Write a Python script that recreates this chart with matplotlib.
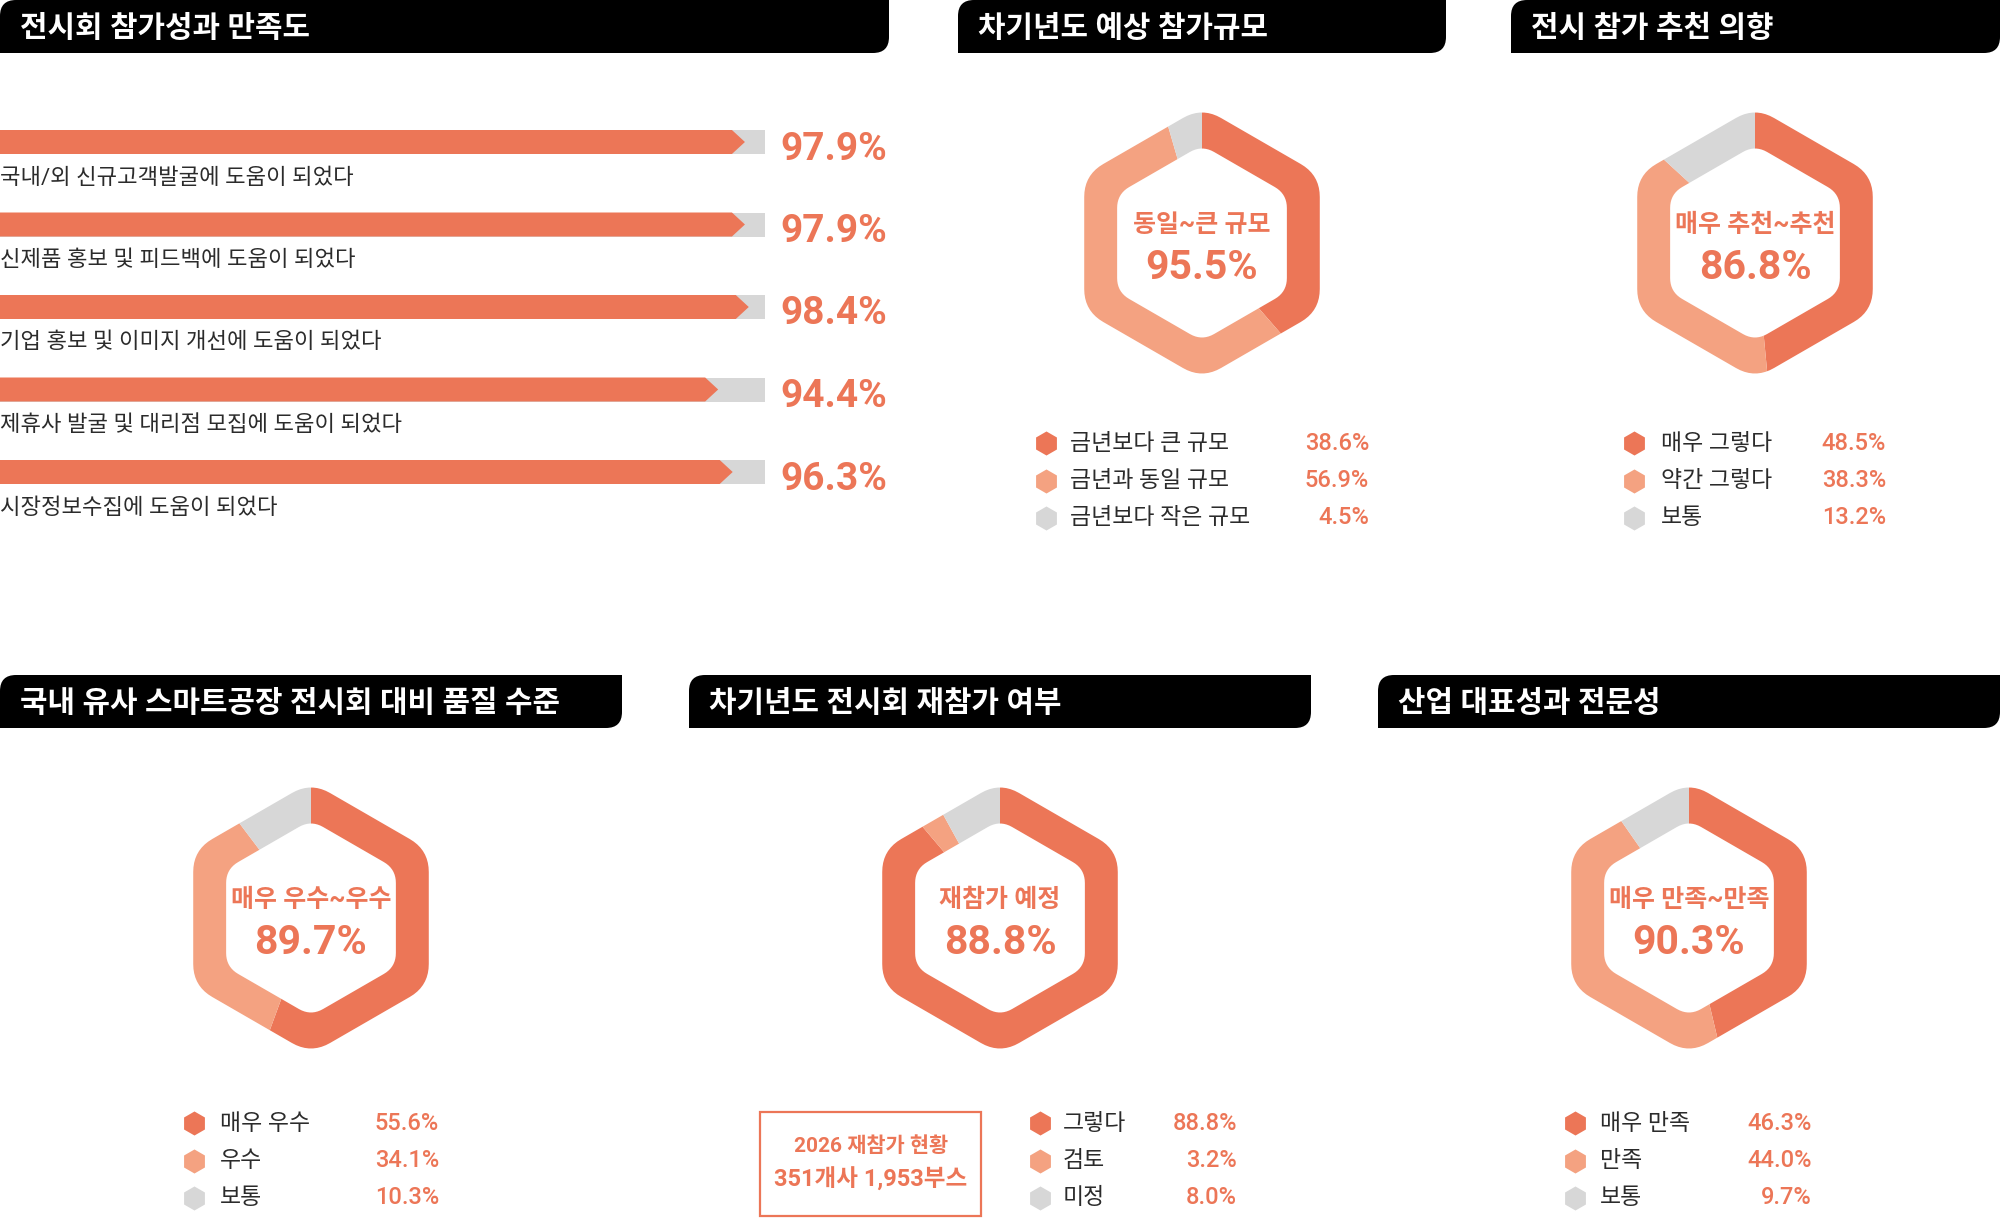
import matplotlib
matplotlib.use('Agg')
import matplotlib.pyplot as plt
import numpy as np
from matplotlib.path import Path
from matplotlib.patches import PathPatch, Polygon, Rectangle

# ---------------- data ----------------
bar_title = '전시회 참가성과 만족도'
bar_labels = ['국내/외 신규고객발굴에 도움이 되었다',
              '신제품 홍보 및 피드백에 도움이 되었다',
              '기업 홍보 및 이미지 개선에 도움이 되었다',
              '제휴사 발굴 및 대리점 모집에 도움이 되었다',
              '시장정보수집에 도움이 되었다']
bar_values = [97.9, 97.9, 98.4, 94.4, 96.3]

scale_title = '차기년도 예상 참가규모'
scale_center = '동일~큰 규모'
scale_total = 95.5
scale_cats = ['금년보다 큰 규모', '금년과 동일 규모', '금년보다 작은 규모']
scale_vals = [38.6, 56.9, 4.5]

rec_title = '전시 참가 추천 의향'
rec_center = '매우 추천~추천'
rec_total = 86.8
rec_cats = ['매우 그렇다', '약간 그렇다', '보통']
rec_vals = [48.5, 38.3, 13.2]

qual_title = '국내 유사 스마트공장 전시회 대비 품질 수준'
qual_center = '매우 우수~우수'
qual_total = 89.7
qual_cats = ['매우 우수', '우수', '보통']
qual_vals = [55.6, 34.1, 10.3]

rej_title = '차기년도 전시회 재참가 여부'
rej_center = '재참가 예정'
rej_total = 88.8
rej_cats = ['그렇다', '검토', '미정']
rej_vals = [88.8, 3.2, 8.0]
rej_year = '2026'
rej_companies = 351
rej_booths = 1953

ind_title = '산업 대표성과 전문성'
ind_center = '매우 만족~만족'
ind_total = 90.3
ind_cats = ['매우 만족', '만족', '보통']
ind_vals = [46.3, 44.0, 9.7]

# ---------------- style ----------------
plt.rcParams['font.family'] = ['Roboto', 'Noto Sans CJK KR', 'DejaVu Sans']
DARK = '#EC7657'
LIGHT = '#F4A281'
GRAY = '#D7D7D7'
TXT = '#2B2B2B'
SEG_COLORS = [DARK, LIGHT, GRAY]

W, H = 2000, 1218
fig = plt.figure(figsize=(20, 12.18), dpi=100)
ax = fig.add_axes([0, 0, 1, 1])


def header(x0, x1, y0, y1, title, r=16):
    verts = [(x0, y0 + r), (x0, y0), (x0 + r, y0), (x1, y0), (x1, y1 - r),
             (x1, y1), (x1 - r, y1), (x0, y1), (x0, y0 + r)]
    codes = [Path.MOVETO, Path.CURVE3, Path.CURVE3, Path.LINETO, Path.LINETO,
             Path.CURVE3, Path.CURVE3, Path.LINETO, Path.CLOSEPOLY]
    ax.add_patch(PathPatch(Path(verts, codes), facecolor='black', edgecolor='none'))
    ax.text(x0 + 20, (y0 + y1) / 2 + 2, title, color='white', fontsize=21.5,
            fontweight='bold', ha='left', va='center')


def rounded_hex(cx, cy, R, d, n=10):
    ang = np.deg2rad(-90 + 60 * np.arange(6))
    V = np.c_[cx + R * np.cos(ang), cy + R * np.sin(ang)]
    pts = []
    for k in range(6):
        v = V[k]
        p = V[k - 1]
        nx = V[(k + 1) % 6]
        a = v + (p - v) / np.linalg.norm(p - v) * d
        b = v + (nx - v) / np.linalg.norm(nx - v) * d
        for t in np.linspace(0, 1, n):
            pts.append((1 - t) ** 2 * a + 2 * (1 - t) * t * v + t ** 2 * b)
    return np.array(pts)


def ring_path(cx, cy, Ro=136, Ri=98):
    outer = rounded_hex(cx, cy, Ro, 22)
    inner = rounded_hex(cx, cy, Ri, 14)[::-1]
    verts = np.vstack([outer, outer[:1], inner, inner[:1]])
    codes = ([Path.MOVETO] + [Path.LINETO] * (len(outer) - 1) + [Path.CLOSEPOLY] +
             [Path.MOVETO] + [Path.LINETO] * (len(inner) - 1) + [Path.CLOSEPOLY])
    return Path(verts, codes)


def hex_donut(cx, cy, vals, center_label, total):
    wedges, _ = ax.pie(vals, colors=SEG_COLORS, startangle=-90, counterclock=True,
                       radius=190, center=(cx, cy), wedgeprops=dict(linewidth=0))
    clip = PathPatch(ring_path(cx, cy), transform=ax.transData,
                     facecolor='none', edgecolor='none')
    ax.add_patch(clip)
    for w in wedges:
        w.set_clip_on(True)
        w.set_clip_path(clip)
    ax.text(cx, cy - 18, center_label, fontsize=18, fontweight='bold', color=DARK,
            ha='center', va='center', zorder=5)
    ax.text(cx, cy + 25, f'{total:.1f}%', fontsize=29.5, fontweight='bold', color=DARK,
            ha='center', va='center', zorder=5)


def legend(mx, lx, vr, y0, cats, vals, step=37.5):
    for j, (c, v) in enumerate(zip(cats, vals)):
        yy = y0 + j * step
        ax.scatter([mx], [yy], marker='h', s=300, color=SEG_COLORS[j], linewidths=0,
                   zorder=3)
        ax.text(lx, yy, c, fontsize=16.5, color=TXT, ha='left', va='center')
        ax.text(vr, yy, f'{v:.1f}%', fontsize=17, color=DARK, fontweight='medium',
                ha='right', va='center')


# ---------------- panel 1: bars ----------------
header(0, 889, 0, 53, bar_title)
BW, BH, TIP = 765, 24, 13
for i, (lab, v) in enumerate(zip(bar_labels, bar_values)):
    yc = 142 + i * 82.5
    ax.barh(yc, BW, height=BH, left=0, color=GRAY, linewidth=0)
    xt = v / 100 * BW - 4
    ax.add_patch(Polygon([(0, yc - BH / 2), (xt - TIP, yc - BH / 2), (xt, yc),
                          (xt - TIP, yc + BH / 2), (0, yc + BH / 2)],
                         closed=True, facecolor=DARK, edgecolor='none'))
    ax.text(0, yc + 36, lab, fontsize=16, color=TXT, ha='left', va='center')
    ax.text(887, yc + 7, f'{v:.1f}%', fontsize=28, fontweight='bold', color=DARK,
            ha='right', va='center')

# ---------------- hexagon donuts ----------------
header(958, 1446, 0, 53, scale_title)
hex_donut(1202, 243, scale_vals, scale_center, scale_total)
legend(1046, 1070, 1369, 443, scale_cats, scale_vals)

header(1511, 2000, 0, 53, rec_title)
hex_donut(1755, 243, rec_vals, rec_center, rec_total)
legend(1634, 1661, 1886, 443, rec_cats, rec_vals)

header(0, 622, 675, 728, qual_title)
hex_donut(311, 918, qual_vals, qual_center, qual_total)
legend(194, 220, 439, 1123, qual_cats, qual_vals)

header(689, 1311, 675, 728, rej_title)
hex_donut(1000, 918, rej_vals, rej_center, rej_total)
legend(1040, 1063, 1237, 1123, rej_cats, rej_vals)
ax.add_patch(Rectangle((760, 1112), 221, 104, fill=False, edgecolor=DARK, linewidth=1.6))
ax.text(871, 1146, f'{rej_year} 재참가 현황', fontsize=15, fontweight='bold', color=DARK,
        ha='center', va='center')
ax.text(871, 1180, f'{rej_companies}개사 {rej_booths:,}부스', fontsize=17,
        fontweight='bold', color=DARK, ha='center', va='center')

header(1378, 2000, 675, 728, ind_title)
hex_donut(1689, 918, ind_vals, ind_center, ind_total)
legend(1575, 1600, 1812, 1123, ind_cats, ind_vals)

ax.set_xlim(0, W)
ax.set_ylim(H, 0)
ax.set_aspect('auto')
ax.axis('off')
fig.savefig('out.png', dpi=100, facecolor='white')
